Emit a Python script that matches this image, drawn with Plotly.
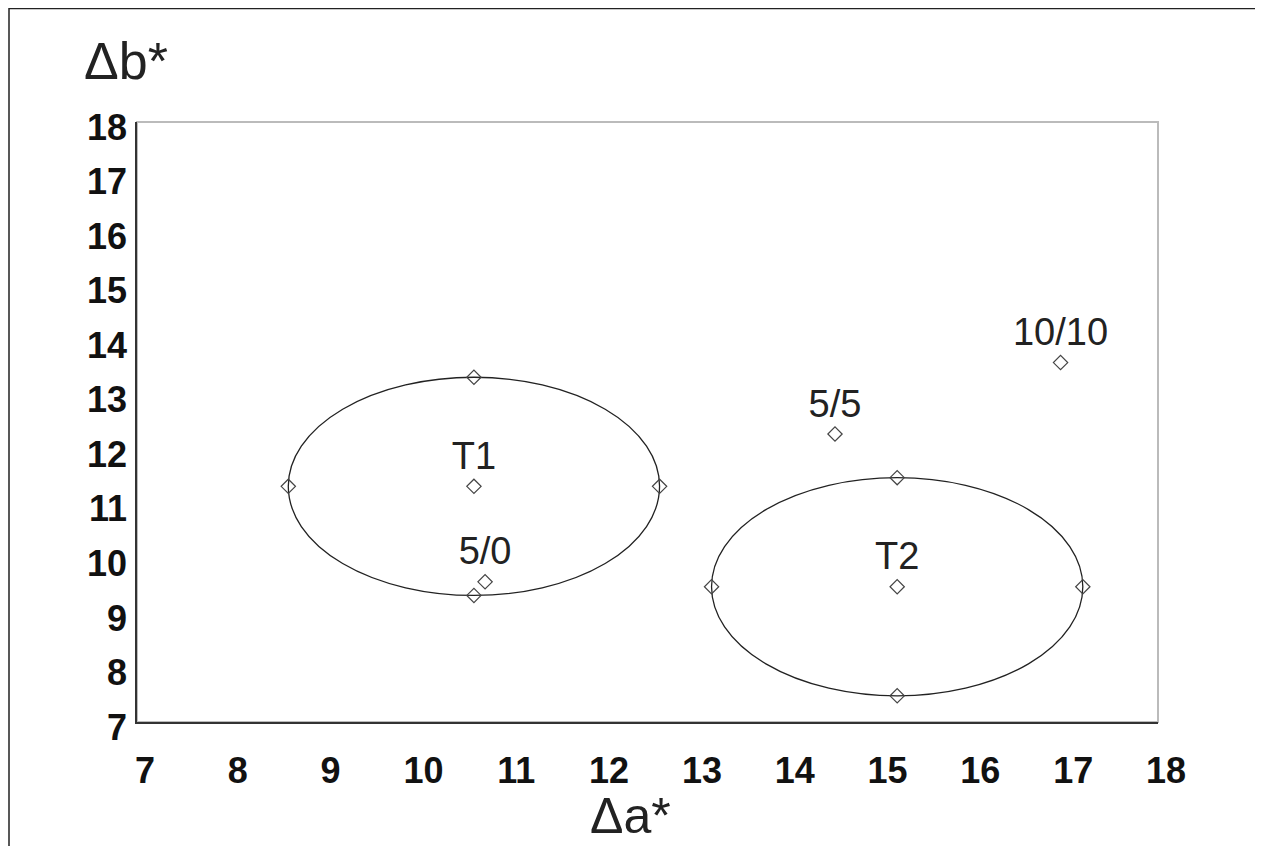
import plotly.graph_objects as go

# Data
point_labels = ["T1", "5/0", "T2", "5/5", "10/10"]
point_x = [10.63, 10.75, 15.19, 14.52, 16.95]
point_y = [11.32, 9.57, 9.48, 12.28, 13.59]

# Tolerance ellipses around T1 and T2 (centre, half-width, half-height)
ellipse_centers_x = [10.63, 15.19]
ellipse_centers_y = [11.32, 9.48]
ellipse_rx = [2.0, 2.0]
ellipse_ry = [2.0, 2.0]

x_ticks = list(range(7, 19))
y_ticks = list(range(7, 19))

FONT = "Liberation Sans, Arial, sans-serif"
MARK = "#444444"

# figure geometry (figure is drawn 8px inside the page)
W, H = 1255, 838
ML, MT = 129, 114
PW, PH = 1021, 600
MR = W - ML - PW
MB = H - MT - PH

def px_x(fx):  # figure pixel -> paper x
    return (fx - ML) / PW

def px_y(fy):  # figure pixel -> paper y
    return (MT + PH - fy) / PH

fig = go.Figure()

ex, ey = [], []
for cx, cy, rx, ry in zip(ellipse_centers_x, ellipse_centers_y, ellipse_rx, ellipse_ry):
    ex += [cx - rx, cx + rx, cx, cx]
    ey += [cy, cy, cy + ry, cy - ry]
    fig.add_shape(type="circle", xref="x", yref="y",
                  x0=cx - rx, x1=cx + rx, y0=cy - ry, y1=cy + ry,
                  line=dict(color="#222222", width=1.3), layer="below")

fig.add_trace(go.Scatter(
    x=ex, y=ey, mode="markers",
    marker=dict(symbol="diamond-open", size=11, color=MARK, line=dict(width=1.2)),
    hoverinfo="skip", showlegend=False))

fig.add_trace(go.Scatter(
    x=point_x, y=point_y, mode="markers+text",
    text=point_labels, textposition="top center",
    textfont=dict(family=FONT, size=38, color="#222222"),
    marker=dict(symbol="diamond-open", size=11, color=MARK, line=dict(width=1.2)),
    hoverinfo="skip", showlegend=False))

# light gray frame of plot area (top/right)
fig.add_shape(type="rect", xref="x domain", yref="y domain", x0=0, x1=1, y0=0, y1=1,
              line=dict(color="#bbbbbb", width=2), layer="below")

# outer black frame (bottom edge outside the picture)
fig.add_shape(type="rect", xref="paper", yref="paper",
              x0=px_x(1), x1=px_x(1253),
              y0=px_y(H + 40), y1=px_y(0.5),
              line=dict(color="#222222", width=1.5))

fig.update_xaxes(range=[7, 18], tickvals=x_ticks, showgrid=False, zeroline=False,
                 showline=True, linecolor="#333333", linewidth=2,
                 tickfont=dict(family=FONT, size=36, color="#111111", weight="bold"),
                 ticks="", ticklabelstandoff=16, ticklabelshift=8)
fig.update_yaxes(range=[7, 18], tickvals=y_ticks, showgrid=False, zeroline=False,
                 showline=True, linecolor="#333333", linewidth=1.5,
                 tickfont=dict(family=FONT, size=36, color="#111111", weight="bold"),
                 ticks="", ticklabelstandoff=1, ticklabelshift=5)

fig.add_annotation(text="Δa*", xref="paper", yref="paper",
                   x=px_x(630 - 8), y=px_y(816 - 8),
                   xanchor="center", yanchor="middle",
                   showarrow=False, font=dict(family=FONT, size=50, color="#222222"))
fig.add_annotation(text="Δb*", xref="paper", yref="paper",
                   x=px_x(126 - 8), y=px_y(61 - 8),
                   xanchor="center", yanchor="middle",
                   showarrow=False, font=dict(family=FONT, size=52, color="#222222"))

fig.update_layout(width=W, height=H,
                  margin=dict(l=ML, r=MR, t=MT, b=MB),
                  paper_bgcolor="white", plot_bgcolor="white")

fig.write_html("out.html")
